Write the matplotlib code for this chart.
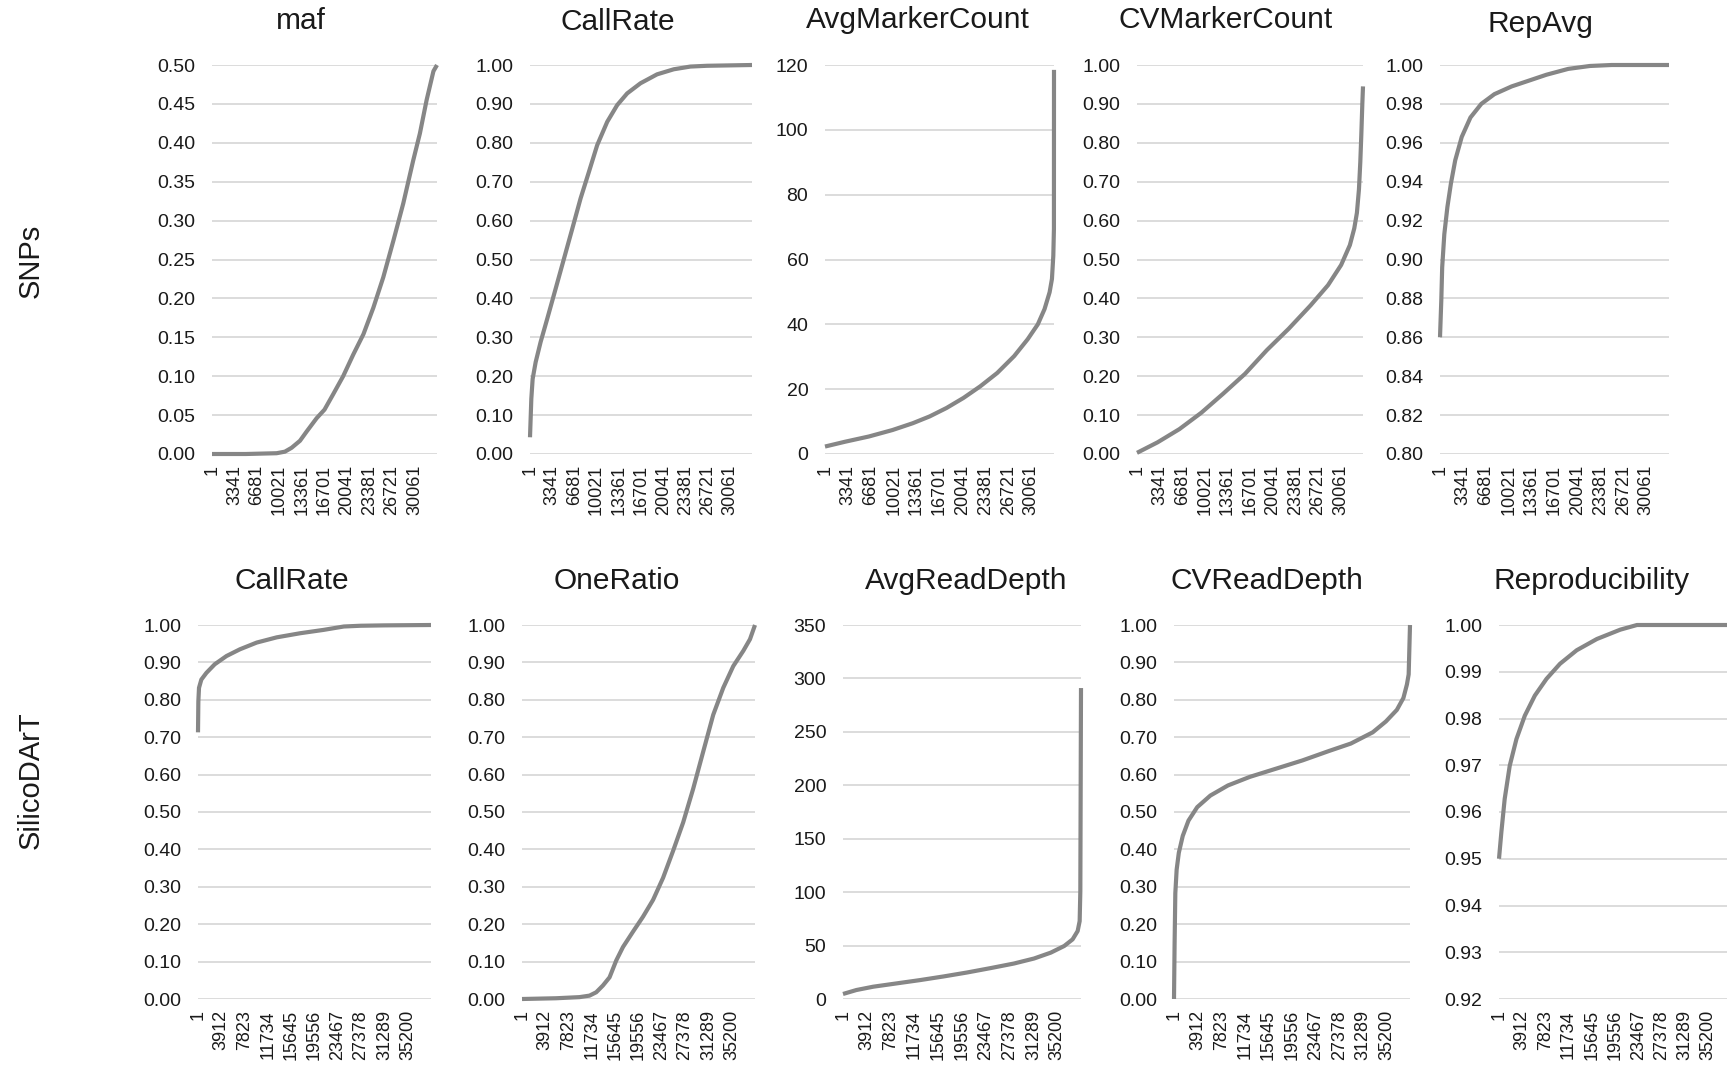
import numpy as np
import matplotlib
matplotlib.use("Agg")
import matplotlib.pyplot as plt

plt.rcParams['font.family'] = ['Liberation Sans', 'DejaVu Sans']

W, H, DPI = 1727, 1070, 100

# ---------------------------------------------------------------- data
snp_n = 33400
dart_n = 39110
snp_ticks = [1, 3341, 6681, 10021, 13361, 16701, 20041, 23381, 26721, 30061]
dart_ticks = [1, 3912, 7823, 11734, 15645, 19556, 23467, 27378, 31289, 35200]

# SNP metrics, markers sorted by value (rank, value)
maf_idx = [1, 5000, 9590, 10820, 11820, 13060, 14060, 15530, 16700, 18000, 19470,
           20980, 22480, 23950, 25420, 26920, 28390, 29860, 30860, 31860, 32870, 33400]
maf_val = [0.000, 0.000, 0.001, 0.003, 0.008, 0.017, 0.029, 0.046, 0.057, 0.077, 0.100,
           0.128, 0.154, 0.188, 0.227, 0.274, 0.322, 0.377, 0.412, 0.455, 0.492, 0.500]

snp_callrate_idx = [1, 200, 400, 850, 1600, 2600, 3860, 5110, 6360, 7610, 8860, 10110,
                    11620, 13120, 14620, 16620, 19120, 21630, 24130, 26640, 33400]
snp_callrate_val = [0.043, 0.142, 0.193, 0.236, 0.288, 0.348, 0.425, 0.502, 0.579, 0.657,
                    0.725, 0.794, 0.854, 0.897, 0.927, 0.953, 0.976, 0.989, 0.996, 0.998, 1.000]

avgmarker_idx = [1, 2960, 6400, 9850, 12810, 15270, 17730, 20200, 22660, 25120, 27590,
                 29560, 31040, 32020, 32760, 33100, 33300, 33390, 33400]
avgmarker_val = [2.3, 3.8, 5.4, 7.4, 9.5, 11.6, 14.2, 17.3, 20.9, 25.0, 30.2,
                 35.4, 40.0, 44.7, 49.9, 54.0, 61.2, 69.5, 118.5]

cvmarker_idx = [1, 3040, 6270, 9500, 12730, 15960, 19190, 22420, 25650, 28230, 30170,
                31460, 32110, 32500, 32800, 33000, 33150, 33300, 33400]
cvmarker_val = [0.003, 0.030, 0.064, 0.106, 0.155, 0.206, 0.267, 0.322, 0.382, 0.434, 0.486,
                0.537, 0.580, 0.620, 0.680, 0.750, 0.820, 0.900, 0.945]

repavg_idx = [1, 190, 320, 630, 1080, 1590, 2220, 3170, 4440, 6020, 7930, 10460,
              13000, 15530, 18700, 21870, 25040, 33400]
repavg_val = [0.860, 0.879, 0.896, 0.913, 0.927, 0.939, 0.951, 0.963, 0.973, 0.980, 0.985,
              0.989, 0.992, 0.995, 0.998, 0.9995, 1.000, 1.000]

# SilicoDArT metrics, markers sorted by value (rank, value)
dart_callrate_idx = [1, 60, 170, 560, 1410, 2810, 4780, 7030, 9850, 13220, 17160,
                     21100, 24480, 27290, 31230, 39110]
dart_callrate_val = [0.713, 0.796, 0.832, 0.854, 0.872, 0.895, 0.917, 0.935, 0.953, 0.967,
                     0.978, 0.987, 0.996, 0.998, 0.999, 1.000]

oneratio_idx = [1, 5720, 9650, 11330, 12460, 13580, 14700, 15820, 16950, 18630, 20310,
                22000, 23680, 25360, 27050, 28730, 30410, 32100, 33780, 35460, 37150,
                38270, 39110]
oneratio_val = [0.000, 0.002, 0.005, 0.009, 0.018, 0.036, 0.058, 0.103, 0.139, 0.180, 0.220,
                0.265, 0.324, 0.396, 0.472, 0.562, 0.661, 0.760, 0.832, 0.890, 0.931,
                0.962, 1.000]

avgread_idx = [1, 2200, 4960, 8810, 12670, 16520, 20380, 24240, 28090, 31400, 34150,
               36350, 37730, 38560, 38890, 39000, 39110]
avgread_val = [4.7, 8.4, 11.5, 14.6, 17.7, 21.1, 24.8, 28.9, 33.2, 37.9, 43.4,
               49.6, 55.8, 63.6, 72.9, 100.8, 291.0]

cvread_idx = [1, 100, 220, 440, 800, 1450, 2400, 3850, 6030, 8940, 12580, 16940, 21300,
              25660, 29300, 32930, 35110, 36930, 38020, 38600, 38890, 39110]
cvread_val = [0.000, 0.148, 0.283, 0.346, 0.391, 0.436, 0.477, 0.513, 0.544, 0.571, 0.594,
              0.616, 0.638, 0.663, 0.683, 0.713, 0.742, 0.773, 0.805, 0.841, 0.868, 1.000]

repro_idx = [1, 400, 960, 1810, 2940, 4350, 6040, 8020, 10280, 13100, 16490, 20440,
             23260, 39110]
repro_val = [0.950, 0.9557, 0.9628, 0.9699, 0.9756, 0.9806, 0.9849, 0.9885, 0.9917,
             0.9946, 0.9970, 0.9990, 1.000, 1.000]

# ---------------------------------------------------------------- layout
ROW1 = (65, 454)    # top, bottom in pixels
ROW2 = (625, 999)

panels = [
    # title, x, y, n, ticks, (ymin, ymax, nticks), fmt, (left, right), row, title centre
    ("maf", maf_idx, maf_val, snp_n, snp_ticks, (0.0, 0.5, 11), "%.2f", (212, 437), ROW1, (301, 21)),
    ("CallRate", snp_callrate_idx, snp_callrate_val, snp_n, snp_ticks, (0.0, 1.0, 11), "%.2f", (530, 752), ROW1, (618, 22)),
    ("AvgMarkerCount", avgmarker_idx, avgmarker_val, snp_n, snp_ticks, (0, 120, 7), "%d", (825, 1054), ROW1, (918, 20)),
    ("CVMarkerCount", cvmarker_idx, cvmarker_val, snp_n, snp_ticks, (0.0, 1.0, 11), "%.2f", (1137, 1363), ROW1, (1226, 20)),
    ("RepAvg", repavg_idx, repavg_val, snp_n, snp_ticks, (0.80, 1.0, 11), "%.2f", (1440, 1669), ROW1, (1540, 24)),
    ("CallRate", dart_callrate_idx, dart_callrate_val, dart_n, dart_ticks, (0.0, 1.0, 11), "%.2f", (198, 431), ROW2, (292, 581)),
    ("OneRatio", oneratio_idx, oneratio_val, dart_n, dart_ticks, (0.0, 1.0, 11), "%.2f", (522, 755), ROW2, (617, 581)),
    ("AvgReadDepth", avgread_idx, avgread_val, dart_n, dart_ticks, (0, 350, 8), "%d", (843, 1081), ROW2, (966, 581)),
    ("CVReadDepth", cvread_idx, cvread_val, dart_n, dart_ticks, (0.0, 1.0, 11), "%.2f", (1174, 1410), ROW2, (1267, 581)),
    ("Reproducibility", repro_idx, repro_val, dart_n, dart_ticks, (0.92, 1.0, 9), "%.2f", (1499, 1731), ROW2, (1592, 581)),
]

LINE = "#868686"
GRID = "#d9d9d9"
TEXT = "#1a1a1a"

fig = plt.figure(figsize=(W / DPI, H / DPI), dpi=DPI)
fig.patch.set_facecolor("white")

for title, xs, ys, n, ticks, (y0, y1, nt), fmt, (l, r), (t, b), (tx, ty) in panels:
    ax = fig.add_axes([l / W, 1 - b / H, (r - l) / W, (b - t) / H])
    ax.plot(xs, ys, color=LINE, lw=3.0, clip_on=False, zorder=3,
            solid_joinstyle="round", solid_capstyle="butt")
    ax.set_xlim(1, n)
    ax.set_ylim(y0, y1)
    yt = np.linspace(y0, y1, nt)
    ax.set_yticks(yt)
    ax.set_yticklabels([fmt % v for v in yt], fontsize=14, color=TEXT)
    ax.set_xticks(ticks)
    ax.set_xticklabels([str(v) for v in ticks], rotation=90, fontsize=13, color=TEXT)
    ax.tick_params(axis="both", length=0)
    ax.tick_params(axis="y", pad=12)
    ax.tick_params(axis="x", pad=8)
    for s in ax.spines.values():
        s.set_visible(False)
    ax.grid(axis="y", color=GRID, lw=1.3)
    ax.set_axisbelow(True)
    fig.text(tx / W, 1 - ty / H, title, ha="center", va="center", fontsize=21.5, color=TEXT)

fig.text(31 / W, 1 - 261 / H, "SNPs", rotation=90, ha="center", va="center",
         fontsize=21, color=TEXT)
fig.text(31 / W, 1 - 780 / H, "SilicoDArT", rotation=90, ha="center", va="center",
         fontsize=21, color=TEXT)

fig.savefig("out.png", dpi=DPI, facecolor="white")
